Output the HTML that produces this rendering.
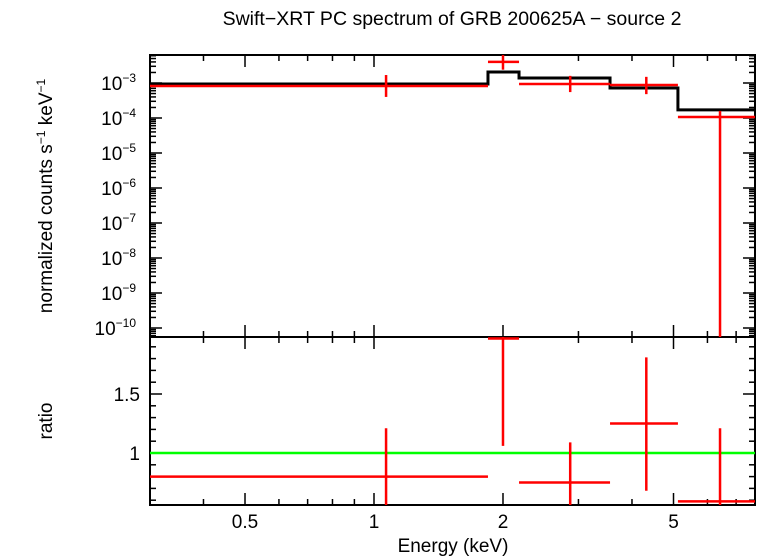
<!DOCTYPE html>
<html><head><meta charset="utf-8"><style>
body{margin:0;background:#fff}
svg{display:block;font-family:"Liberation Sans",sans-serif}
</style></head><body>
<svg id="c" width="758" height="556" viewBox="0 0 758 556"></svg>
<script>
const binLo=[0.3,1.845,2.18,3.555,5.12];
const binHi=[1.845,2.18,3.555,5.12,7.75];
const binCenter=[1.067,2.0,2.87,4.32,6.42];
const rate=[8.2e-4,4.0e-3,9.4e-4,8.8e-4,1.07e-4];
const rateHi=[1.69e-3,6.3e-3,1.6e-3,1.5e-3,1.6e-4];
const rateLo=[4.0e-4,2.4e-3,5.5e-4,4.8e-4,1e-11];
const model=[9.4e-4,2.06e-3,1.39e-3,7.2e-4,1.7e-4];
const ratio=[0.80,1.97,0.75,1.25,0.59];
const ratioHi=[1.21,2.0,1.09,1.81,1.21];
const ratioLo=[0.40,1.06,0.41,0.68,0.40];
const xTicks=[0.5,1,2,5];
const xTickLabels=["0.5","1","2","5"];
const yTopExp=[-3,-4,-5,-6,-7,-8,-9,-10];
const yBotTicks=[1,1.5];
const yBotLabels=["1","1.5"];

const L=150,R=755,T1=55,B1=337,B2=505;
const X=e=>374+428.5*Math.log10(e);
const Y1=v=>83-35*(Math.log10(v)+3);
const Y2=r=>453-118*(r-1);
const svg=document.getElementById('c');
const NS='http://www.w3.org/2000/svg';
function mk(t,a,p){const e=document.createElementNS(NS,t);for(const k in a)e.setAttribute(k,a[k]);(p||svg).appendChild(e);return e;}
function ln(x1,y1,x2,y2,c,w,name){const e=mk('line',{x1,y1,x2,y2,stroke:c,'stroke-width':w});

return e;}
function tx(x,y,s,anchor,name,size){const e=mk('text',{x,y,'text-anchor':anchor,'font-size':size||19});e.textContent=s;

return e;}

tx(452,25,"Swift\u2212XRT PC spectrum of GRB 200625A \u2212 source 2","middle","chart-title",19.5);
const minors=[0.3,0.4,0.5,0.6,0.7,0.8,0.9,1,2,3,4,5,6,7];
minors.forEach(m=>{const x=X(m);const big=xTicks.includes(m);const h=big?12:6;
[[T1,T1+h],[B1,B1-h],[B1,B1+h],[B2,B2-h]].forEach(p=>ln(x,p[0],x,p[1],'#000',1.5,'x-tick'));});
xTicks.forEach((t,i)=>tx(X(t),528,xTickLabels[i],'middle','x-tick-label'));
tx(453,552,"Energy (keV)","middle","x-axis-title");
for(let d=-11;d<=-2;d++){for(let m=1;m<10;m++){const v=m*Math.pow(10,d);const y=Y1(v);if(y<T1||y>B1)continue;const h=m==1?12:6;
ln(L,y,L+h,y,'#000',1.5,'y-tick');ln(R,y,R-h,y,'#000',1.5,'y-tick');}}
yTopExp.forEach(e=>{const t=tx(136,Y1(Math.pow(10,e))+7,"10","end","y-tick-label");
const s=mk('tspan',{dy:-8,'font-size':12},t);s.textContent=String(e).replace('-','\u2212');});
const yt=tx(0,0,"normalized counts s","middle","y-axis-title-top");yt.setAttribute('transform','translate(52,196) rotate(-90)');
let s1=mk('tspan',{dy:-7,'font-size':12},yt);s1.textContent="\u22121";
let s2=mk('tspan',{dy:7},yt);s2.textContent=" keV";
let s3=mk('tspan',{dy:-7,'font-size':12},yt);s3.textContent="\u22121";
for(let r=0.6;r<=1.95;r+=0.1){const y=Y2(r);const big=Math.abs(r-1)<0.01||Math.abs(r-1.5)<0.01;const h=big?12:6;
ln(L,y,L+h,y,'#000',1.5,'y-tick');ln(R,y,R-h,y,'#000',1.5,'y-tick');}
yBotTicks.forEach((t,i)=>tx(140,Y2(t)+7,yBotLabels[i],'end','ratio-tick-label'));
const rt=tx(0,0,"ratio","middle","y-axis-title-bottom");rt.setAttribute('transform','translate(52,421) rotate(-90)');
const f1=mk('rect',{x:L,y:T1,width:R-L,height:B1-T1,fill:'none',stroke:'#000','stroke-width':2});

const f2=mk('rect',{x:L,y:B1,width:R-L,height:B2-B1,fill:'none',stroke:'#000','stroke-width':2});

const cp=mk('clipPath',{id:'cp1'});mk('rect',{x:L,y:T1,width:R-L,height:B1-T1},cp);
const cp2=mk('clipPath',{id:'cp2'});mk('rect',{x:L,y:B1,width:R-L,height:B2-B1},cp2);
const g1=mk('g',{'clip-path':'url(#cp1)'});const g2=mk('g',{'clip-path':'url(#cp2)'});
let d='';binLo.forEach((lo,i)=>{d+=(i?'L':'M')+X(lo)+','+Y1(model[i])+'L'+X(binHi[i])+','+Y1(model[i]);});
const mp=mk('path',{d,fill:'none',stroke:'#000','stroke-width':3},g1);

binLo.forEach((lo,i)=>{
 let e=mk('line',{x1:X(lo),x2:X(binHi[i]),y1:Y1(rate[i]),y2:Y1(rate[i]),stroke:'#f00','stroke-width':2.5},g1);
 
 e=mk('line',{x1:X(binCenter[i]),x2:X(binCenter[i]),y1:Y1(rateHi[i]),y2:Math.min(B1,Y1(rateLo[i])),stroke:'#f00','stroke-width':2.5},g1);
 
});
const ul=mk('line',{x1:L,x2:R,y1:Y2(1),y2:Y2(1),stroke:'#0f0','stroke-width':2.5},g2);

binLo.forEach((lo,i)=>{
 let e=mk('line',{x1:X(lo),x2:X(binHi[i]),y1:Y2(ratio[i]),y2:Y2(ratio[i]),stroke:'#f00','stroke-width':2.5},g2);
 
 e=mk('line',{x1:X(binCenter[i]),x2:X(binCenter[i]),y1:Y2(ratioHi[i]),y2:Y2(ratioLo[i]),stroke:'#f00','stroke-width':2.5},g2);
 
});
</script>
</body></html>
